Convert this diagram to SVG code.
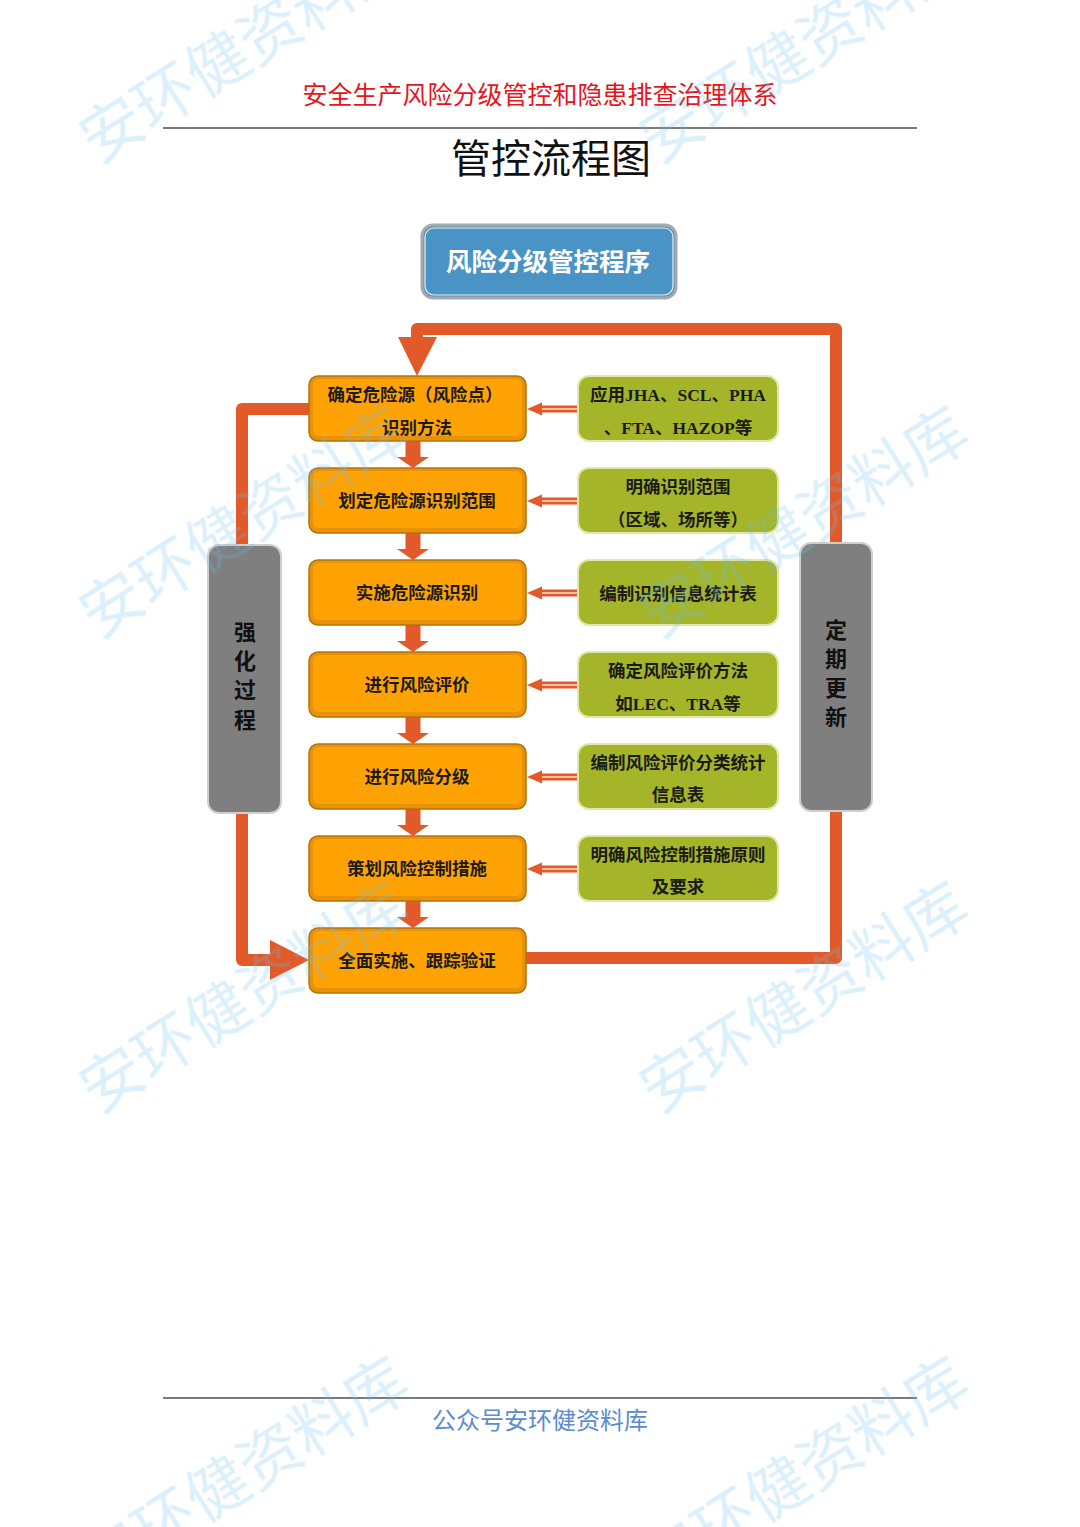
<svg xmlns="http://www.w3.org/2000/svg" width="1080" height="1527" viewBox="0 0 1080 1527">
<defs>
<style>
.cjk{font-family:"Noto Sans CJK SC","Noto Sans",sans-serif;}
.ob{fill:#e8920c;stroke:#b57306;stroke-width:1.5;}
.oi{fill:#ffa304;}
.ot{font-family:"Noto Sans CJK SC",sans-serif;font-size:17.5px;font-weight:700;fill:#1a1a1a;text-anchor:middle;}
.gb{fill:#a4b52a;stroke:#dfe8a6;stroke-width:2;}
.gt{font-family:"Liberation Serif","Noto Sans CJK SC",serif;font-size:17.5px;font-weight:700;fill:#1a1a1a;text-anchor:middle;}
.sb{fill:#7f7f7f;stroke:#cfcfcf;stroke-width:2;}
.st{font-family:"Noto Sans CJK SC",sans-serif;font-size:22px;font-weight:700;fill:#111;text-anchor:middle;}
.big{fill:none;stroke:#e25a2a;stroke-width:12;stroke-linejoin:round;}
.ar{fill:#e25a2a;}
.wm{font-family:"Noto Sans CJK SC",sans-serif;font-size:62px;fill:#6fc0ee;opacity:0.24;}
</style>
<g id="downArrow"><rect x="-7.5" y="0" width="15" height="16" class="ar"/><polygon points="-16,16 16,16 0,27" class="ar"/></g>
<g id="leftArrow"><rect x="14" y="-3.5" width="37" height="7" fill="#e25a2a"/><line x1="14" y1="0" x2="51" y2="0" stroke="#f6c0a8" stroke-width="2"/><polygon points="0,0 15,-6.5 15,6.5" class="ar"/></g>
</defs>
<rect width="1080" height="1527" fill="#ffffff"/>

<g id="header">
<text x="540" y="104" class="cjk" font-size="25" fill="#e8141c" text-anchor="middle">安全生产风险分级管控和隐患排查治理体系</text>
<line x1="163" y1="128" x2="917" y2="128" stroke="#7a7a7a" stroke-width="2"/>
<text x="551" y="173" class="cjk" font-size="40" fill="#111" text-anchor="middle">管控流程图</text>
</g>

<g id="connectors">
<polyline class="big" points="836,543 836,329 417,329 417,340"/>
<polygon class="ar" points="398,337 437,337 417,376"/>
<polyline class="big" points="309,409 242,409 242,545"/>
<polyline class="big" points="242,813 242,960 272,960"/>
<polygon class="ar" points="270,940 270,980 309,960"/>
<polyline class="big" points="836,811 836,958 526,958"/>
<use href="#downArrow" x="413" y="441"/>
<use href="#downArrow" x="413" y="533"/>
<use href="#downArrow" x="413" y="625"/>
<use href="#downArrow" x="413" y="717"/>
<use href="#downArrow" x="413" y="809"/>
<use href="#downArrow" x="413" y="901"/>
<use href="#leftArrow" x="527" y="409"/>
<use href="#leftArrow" x="527" y="501"/>
<use href="#leftArrow" x="527" y="593"/>
<use href="#leftArrow" x="527" y="685"/>
<use href="#leftArrow" x="527" y="777"/>
<use href="#leftArrow" x="527" y="869"/>
</g>

<g id="program">
<rect x="422" y="225" width="254" height="73" rx="11" fill="#4a94c5" stroke="#a8a8a8" stroke-width="3"/>
<rect x="425" y="228" width="248" height="67" rx="9" fill="none" stroke="#e9eef2" stroke-width="1.2"/>
<text x="548" y="271" class="cjk" font-size="25.5" font-weight="700" fill="#ffffff" text-anchor="middle">风险分级管控程序</text>
</g>

<g id="o1"><rect x="309" y="376" width="217" height="65" rx="9" class="ob"/><rect x="313" y="379" width="209" height="57" rx="6" class="oi"/>
<text x="415" y="401" class="ot">确定危险源（风险点）</text><text x="417" y="434" class="ot">识别方法</text></g>
<g id="o2"><rect x="309" y="468" width="217" height="65" rx="9" class="ob"/><rect x="313" y="471" width="209" height="57" rx="6" class="oi"/>
<text x="417" y="507" class="ot">划定危险源识别范围</text></g>
<g id="o3"><rect x="309" y="560" width="217" height="65" rx="9" class="ob"/><rect x="313" y="563" width="209" height="57" rx="6" class="oi"/>
<text x="417" y="599" class="ot">实施危险源识别</text></g>
<g id="o4"><rect x="309" y="652" width="217" height="65" rx="9" class="ob"/><rect x="313" y="655" width="209" height="57" rx="6" class="oi"/>
<text x="417" y="691" class="ot">进行风险评价</text></g>
<g id="o5"><rect x="309" y="744" width="217" height="65" rx="9" class="ob"/><rect x="313" y="747" width="209" height="57" rx="6" class="oi"/>
<text x="417" y="783" class="ot">进行风险分级</text></g>
<g id="o6"><rect x="309" y="836" width="217" height="65" rx="9" class="ob"/><rect x="313" y="839" width="209" height="57" rx="6" class="oi"/>
<text x="417" y="875" class="ot">策划风险控制措施</text></g>
<g id="o7"><rect x="309" y="928" width="217" height="65" rx="9" class="ob"/><rect x="313" y="931" width="209" height="57" rx="6" class="oi"/>
<text x="417" y="967" class="ot">全面实施、跟踪验证</text></g>

<g id="g1"><rect x="578" y="376" width="200" height="65" rx="11" class="gb"/>
<text x="678" y="401" class="gt">应用JHA、SCL、PHA</text><text x="678" y="434" class="gt">、FTA、HAZOP等</text></g>
<g id="g2"><rect x="578" y="468" width="200" height="65" rx="11" class="gb"/>
<text x="678" y="493" class="gt">明确识别范围</text><text x="678" y="526" class="gt">（区域、场所等）</text></g>
<g id="g3"><rect x="578" y="560" width="200" height="65" rx="11" class="gb"/>
<text x="678" y="600" class="gt">编制识别信息统计表</text></g>
<g id="g4"><rect x="578" y="652" width="200" height="65" rx="11" class="gb"/>
<text x="678" y="677" class="gt">确定风险评价方法</text><text x="678" y="710" class="gt">如LEC、TRA等</text></g>
<g id="g5"><rect x="578" y="744" width="200" height="65" rx="11" class="gb"/>
<text x="678" y="769" class="gt">编制风险评价分类统计</text><text x="678" y="801" class="gt">信息表</text></g>
<g id="g6"><rect x="578" y="836" width="200" height="65" rx="11" class="gb"/>
<text x="678" y="861" class="gt">明确风险控制措施原则</text><text x="678" y="893" class="gt">及要求</text></g>

<g id="left"><rect x="208" y="545" width="73" height="268" rx="11" class="sb"/>
<text x="245" y="640" class="st">强</text><text x="245" y="669" class="st">化</text><text x="245" y="698" class="st">过</text><text x="245" y="728" class="st">程</text></g>
<g id="right"><rect x="800" y="543" width="72" height="268" rx="11" class="sb"/>
<text x="836" y="638" class="st">定</text><text x="836" y="667" class="st">期</text><text x="836" y="696" class="st">更</text><text x="836" y="725" class="st">新</text></g>

<g id="footer">
<line x1="163" y1="1398" x2="917" y2="1398" stroke="#7a7a7a" stroke-width="2"/>
<text x="540" y="1429" class="cjk" font-size="24" fill="#5a8ccf" text-anchor="middle">公众号安环健资料库</text>
</g>

<g id="watermarks" class="wm">
<text transform="translate(98,165) rotate(-32)">安环健资料库</text>
<text transform="translate(658,165) rotate(-32)">安环健资料库</text>
<text transform="translate(98,640) rotate(-32)">安环健资料库</text>
<text transform="translate(658,640) rotate(-32)">安环健资料库</text>
<text transform="translate(98,1115) rotate(-32)">安环健资料库</text>
<text transform="translate(658,1115) rotate(-32)">安环健资料库</text>
<text transform="translate(98,1590) rotate(-32)">安环健资料库</text>
<text transform="translate(658,1590) rotate(-32)">安环健资料库</text>
</g>
</svg>
